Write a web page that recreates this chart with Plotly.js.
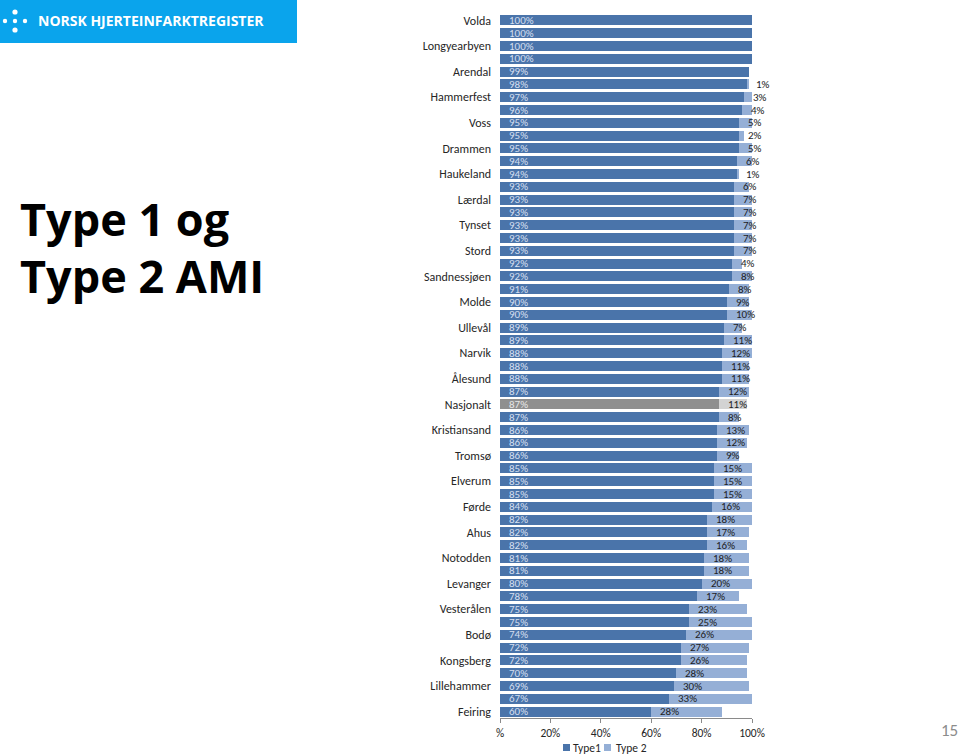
<!DOCTYPE html>
<html>
<head>
<meta charset="utf-8">
<script src="https://cdn.plot.ly/plotly-3.0.1.min.js"></script>
<style>
html,body{margin:0;padding:0;background:#fff;}
#chart{width:960px;height:756px;}
</style>
</head>
<body>
<div id="chart"></div>
<script>
// Labels shown on the axis (every other bar, top to bottom)
const labels = ["Volda","Longyearbyen","Arendal","Hammerfest","Voss","Drammen","Haukeland","Lærdal","Tynset","Stord","Sandnessjøen","Molde","Ullevål","Narvik","Ålesund","Nasjonalt","Kristiansand","Tromsø","Elverum","Førde","Ahus","Notodden","Levanger","Vesterålen","Bodø","Kongsberg","Lillehammer","Feiring"];
// Type 1 share (%) per bar, top to bottom
const type1 = [100,100,100,100,99,98,97,96,95,95,95,94,94,93,93,93,93,93,93,92,92,91,90,90,89,89,88,88,88,87,87,87,86,86,86,85,85,85,84,82,82,82,81,81,80,78,75,75,74,72,72,70,69,67,60];
// Type 2 share (%) per bar, top to bottom
const type2 = [0,0,0,0,0,1,3,4,5,2,5,6,1,6,7,7,7,7,7,4,8,8,9,10,7,11,12,11,11,12,11,8,13,12,9,15,15,15,16,18,17,16,18,18,20,17,23,25,26,27,26,28,30,33,28];
const seriesNames = ["Type1", "Type 2"];
const xTickVals = [0,0.2,0.4,0.6,0.8,1];
const xTickText = ["%","20%","40%","60%","80%","100%"];

const FONT = "Carlito, Lato, 'Open Sans', sans-serif";
const C1 = "#4a74aa", C2 = "#95afd6", G1 = "#8f8f8f", G2 = "#d3d3d3";

const idx = type1.map((_, i) => i);
const natIdx = 2 * labels.indexOf("Nasjonalt");
const tickVals = labels.map((_, k) => 2 * k);

const t1 = type1.map(v => v / 100);
const t2 = type2.map(v => v / 100);

const trace1 = {
  type: "bar", orientation: "h", name: seriesNames[0],
  x: t1, y: idx,
  marker: {color: idx.map(i => i === natIdx ? G1 : C1)},
  hoverinfo: "skip", showlegend: false
};
const trace2 = {
  type: "bar", orientation: "h", name: seriesNames[1],
  x: t2, y: idx,
  marker: {color: idx.map(i => i === natIdx ? G2 : C2)},
  hoverinfo: "skip", showlegend: false
};

// pixel -> paper helpers (plot area 500..752 x 14..718)
const L = 500, R = 752, T = 14, B = 718;
const px = x => (x - L) / (R - L);
const py = y => (B - y) / (B - T);

const annotations = [];
idx.forEach(i => {
  annotations.push({
    x: 0, y: i, xref: "x", yref: "y", xanchor: "left", yanchor: "middle",
    xshift: 8, showarrow: false, text: type1[i] + "%", borderpad: 0,
    font: {family: FONT, size: 11, color: i === natIdx ? "#e6e6e6" : "#d3deef"}
  });
  if (type2[i] > 0) {
    annotations.push({
      x: t1[i], y: i, xref: "x", yref: "y", xanchor: "left", yanchor: "middle",
      xshift: 8, showarrow: false, text: type2[i] + "%", borderpad: 0,
      font: {family: FONT, size: 11, color: "#1e1e1e"}
    });
  }
});
// logo text
annotations.push({
  x: px(36), y: py(21), xref: "paper", yref: "paper", xanchor: "left", yanchor: "middle",
  showarrow: false, text: "<b>NORSK HJERTEINFARKTREGISTER</b>",
  font: {family: "'Open Sans', sans-serif", size: 14, color: "#ffffff"}
});
// big title
annotations.push({
  x: px(18), y: py(219), xref: "paper", yref: "paper", xanchor: "left", yanchor: "middle",
  showarrow: false, text: "<b>Type 1 og</b>",
  font: {family: "'Open Sans', sans-serif", size: 45, color: "#000000"}
});
annotations.push({
  x: px(18), y: py(275), xref: "paper", yref: "paper", xanchor: "left", yanchor: "middle",
  showarrow: false, text: "<b>Type 2 AMI</b>",
  font: {family: "'Open Sans', sans-serif", size: 45, color: "#000000"}
});
// page number
annotations.push({
  x: px(949), y: py(730), xref: "paper", yref: "paper", xanchor: "center", yanchor: "middle",
  showarrow: false, text: "15",
  font: {family: FONT, size: 17, color: "#8c8c8c"}
});
// legend text
const legX = [[563, 572], [604, 615]];
seriesNames.forEach((n, k) => {
  annotations.push({
    x: px(legX[k][1]), y: py(747.5), xref: "paper", yref: "paper", xanchor: "left", yanchor: "middle",
    showarrow: false, text: n, borderpad: 0, font: {family: FONT, size: 11.5, color: "#262626"}
  });
});

const shapes = [
  {type: "rect", xref: "paper", yref: "paper", x0: px(0), x1: px(297), y0: py(43), y1: py(0),
   fillcolor: "#0aa4ec", line: {width: 0}, layer: "above"}
];
const dots = [[5,21,2.2],[15,12,2.6],[15,21,2.2],[15,30,2.6],[25,21,2.2]];
dots.forEach(d => shapes.push({
  type: "circle", xref: "paper", yref: "paper",
  x0: px(d[0] - d[2]), x1: px(d[0] + d[2]), y0: py(d[1] + d[2]), y1: py(d[1] - d[2]),
  fillcolor: "#ffffff", line: {width: 0}, layer: "above"
}));
// legend swatches
[C1, C2].forEach((c, k) => shapes.push({
  type: "rect", xref: "paper", yref: "paper",
  x0: px(legX[k][0]), x1: px(legX[k][0] + 7), y0: py(751), y1: py(744),
  fillcolor: c, line: {width: 0}, layer: "above"
}));

const layout = {
  width: 960, height: 756,
  margin: {l: L, r: 960 - R, t: T, b: 756 - B, autoexpand: false},
  paper_bgcolor: "#ffffff", plot_bgcolor: "#ffffff",
  barmode: "stack", bargap: 0.22,
  font: {family: FONT, size: 11, color: "#262626"},
  xaxis: {
    range: [0, 1], tickmode: "array", tickvals: xTickVals, ticktext: xTickText,
    showgrid: false, zeroline: false, showline: true, linecolor: "#8a8a8a", linewidth: 1,
    ticks: "outside", ticklen: 4, tickcolor: "#8a8a8a",
    tickfont: {family: FONT, size: 11.5, color: "#262626"}, fixedrange: true
  },
  yaxis: {
    range: [54.5, -0.5], tickmode: "array", tickvals: tickVals, ticktext: labels,
    showgrid: false, zeroline: false, showline: false, ticks: "",
    ticklabelstandoff: 8,
    tickfont: {family: FONT, size: 12, color: "#262626"}, fixedrange: true
  },
  showlegend: false,
  annotations: annotations,
  shapes: shapes
};

Plotly.newPlot("chart", [trace1, trace2], layout, {displayModeBar: false, staticPlot: true});
</script>
</body>
</html>
